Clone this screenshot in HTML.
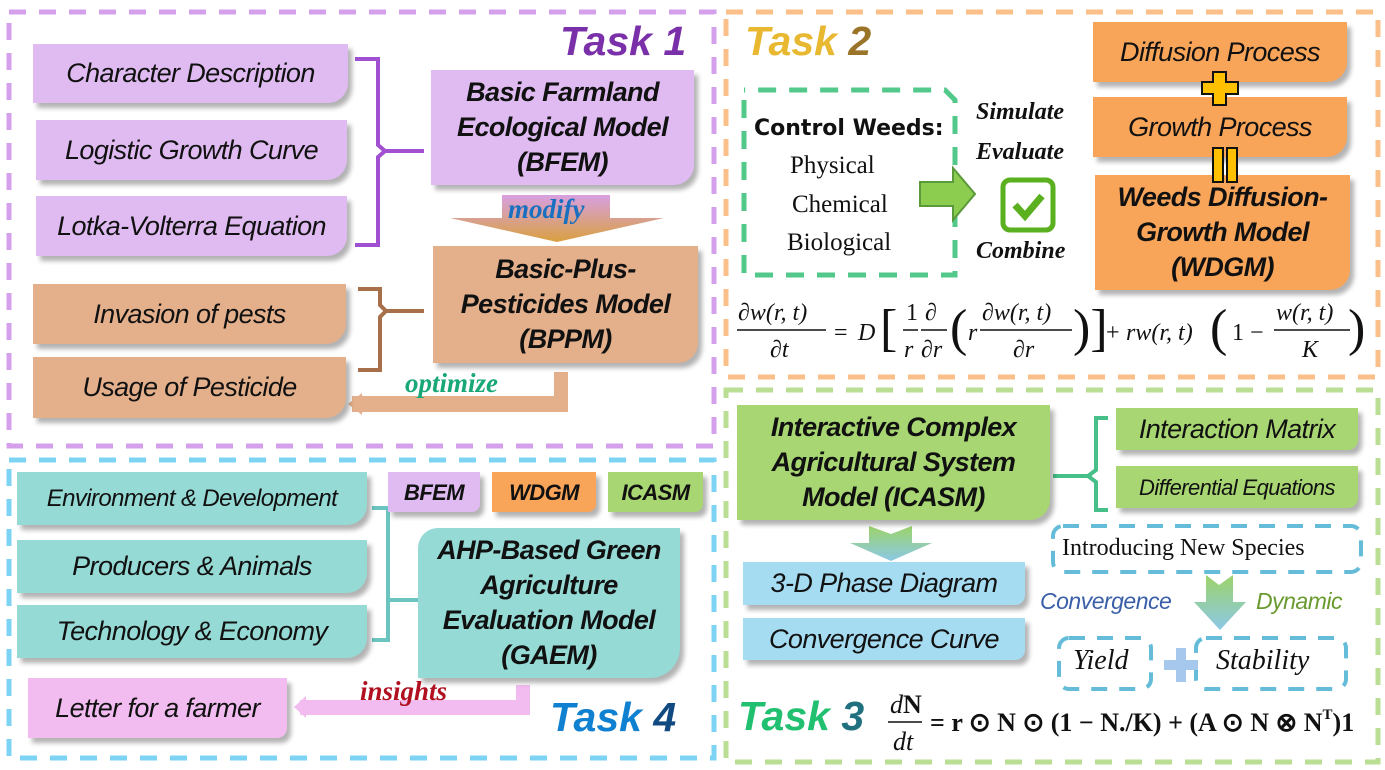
<!DOCTYPE html>
<html><head><meta charset="utf-8"><style>
body{margin:0;background:#fff;}
#c{position:relative;width:1385px;height:770px;overflow:hidden;background:#fff;font-family:"Liberation Sans",sans-serif;}
.b{position:absolute;display:flex;align-items:center;justify-content:center;text-align:center;font-style:italic;font-size:27px;color:#111;border-radius:0 0 20px 0;box-shadow:4px 5px 5px rgba(0,0,0,0.3);line-height:35px;white-space:nowrap;letter-spacing:-0.6px}
.m{font-weight:bold;}
.p{background:#dfbbf1}.br{background:#e4b08c}.o{background:#f8a55a}.g{background:#a8d672}.t{background:#96dad6}.bl{background:#a6dcf1}.pk{background:#f2bcf0}
.tx{position:absolute;white-space:nowrap}
svg{position:absolute;left:0;top:0}
</style></head><body><div id="c">
<svg width="1385" height="770">
<defs>
<linearGradient id="mg" x1="0" y1="0" x2="0" y2="1"><stop offset="0" stop-color="#d8a0e0"/><stop offset="1" stop-color="#d9a040"/></linearGradient>
<linearGradient id="ga" x1="0" y1="0" x2="0" y2="1"><stop offset="0" stop-color="#9cd36a"/><stop offset="1" stop-color="#8cc8e6"/></linearGradient>
</defs>
<rect x="9" y="12" width="705" height="434" fill="none" stroke="#d4a0ec" stroke-width="5" stroke-dasharray="17 13"/>
<rect x="726" y="12" width="652" height="365" fill="none" stroke="#fbc08a" stroke-width="5" stroke-dasharray="17 13"/>
<rect x="726" y="390" width="652" height="372" fill="none" stroke="#b9de94" stroke-width="5" stroke-dasharray="17 13"/>
<rect x="9" y="460" width="705" height="298" fill="none" stroke="#7dd3f3" stroke-width="5" stroke-dasharray="17 13"/>
<path d="M355 59 H378 V145 L385 151 L378 157 V245 H355 M383 151 H424" fill="none" stroke="#a050d0" stroke-width="4"/>
<path d="M358 289 H380 V305 L386 311 L380 317 V370 H358 M384 311 H424" fill="none" stroke="#a8704a" stroke-width="4"/>
<path d="M502 195 H610 V218 H664 L557 242 L450 218 H502Z" fill="url(#mg)"/>
<rect x="352" y="396" width="215" height="16" fill="#e4b08c"/>
<rect x="554" y="372" width="14" height="40" fill="#e4b08c"/>
<path d="M348 404 L362 393 V415Z" fill="#e4b08c"/>
<path d="M744 100 V275 H955 V100 L945 90 H744" fill="none" stroke="#52c88a" stroke-width="5" stroke-dasharray="18 13"/>
<path d="M920 182 H953 V168 L975 194 L953 220 V206 H920Z" fill="#8ccc4e" stroke="#5a9a3a" stroke-width="2"/>
<rect x="1003" y="180" width="50" height="50" rx="7" fill="#fff" stroke="#5ab01e" stroke-width="5"/>
<path d="M1015 205 L1025 216 L1042 196" fill="none" stroke="#5ab01e" stroke-width="7"/>
<path d="M1108 418 H1096 V470 L1088 476 L1096 482 V510 H1108 M1053 476 H1090" fill="none" stroke="#46c088" stroke-width="4"/>
<path d="M869 526 L891 534 L912 526 V543 H932 L891 561 L850 543 H869Z" fill="url(#ga)"/>
<rect x="1053" y="526" width="308" height="46" rx="10" fill="none" stroke="#64bcd8" stroke-width="4" stroke-dasharray="16 12"/>
<path d="M1206 575 L1219 585 L1233 575 V602 H1246 L1220 630 L1194 602 H1206Z" fill="url(#ga)"/>
<rect x="1059" y="638" width="92" height="51" rx="10" fill="none" stroke="#64bcd8" stroke-width="4" stroke-dasharray="16 12"/>
<rect x="1196" y="638" width="150" height="51" rx="10" fill="none" stroke="#64bcd8" stroke-width="4" stroke-dasharray="16 12"/>
<path d="M1176 648 H1186 V660 H1198 V670 H1186 V682 H1176 V670 H1164 V660 H1176Z" fill="#a6c8ec"/>
<path d="M372 508 H388 V640 H372 M388 600 H420" fill="none" stroke="#6cc4c0" stroke-width="4"/>
<rect x="300" y="700" width="230" height="15" fill="#f2bcf0"/>
<rect x="516" y="685" width="14" height="30" fill="#f2bcf0"/>
<path d="M294 707 L306 696 V718Z" fill="#f2bcf0"/>
<g font-family="Liberation Serif,serif" font-size="24" font-style="italic" fill="#111">
<text x="738" y="320">∂w(r, t)</text><line x1="737" y1="330" x2="826" y2="330" stroke="#111" stroke-width="1.5"/><text x="770" y="357">∂t</text>
<text x="834" y="340" font-style="normal">= </text><text x="858" y="340">D</text>
<text x="880" y="345" font-size="52" font-style="normal">[</text>
<text x="906" y="320" font-style="normal">1</text><line x1="903" y1="330" x2="918" y2="330" stroke="#111" stroke-width="1.5"/><text x="904" y="357">r</text>
<text x="925" y="320">∂</text><line x1="921" y1="330" x2="947" y2="330" stroke="#111" stroke-width="1.5"/><text x="921" y="357">∂r</text>
<text x="950" y="345" font-size="52" font-style="normal">(</text><text x="968" y="340">r</text>
<text x="982" y="320">∂w(r, t)</text><line x1="980" y1="330" x2="1072" y2="330" stroke="#111" stroke-width="1.5"/><text x="1013" y="357">∂r</text>
<text x="1073" y="345" font-size="52" font-style="normal">)]</text>
<text x="1106" y="340" font-style="normal">+</text><text x="1126" y="340">rw(r, t)</text>
<text x="1210" y="345" font-size="52" font-style="normal">(</text><text x="1232" y="340" font-style="normal">1 −</text>
<text x="1276" y="320">w(r, t)</text><line x1="1274" y1="330" x2="1350" y2="330" stroke="#111" stroke-width="1.5"/><text x="1302" y="357">K</text>
<text x="1348" y="345" font-size="52" font-style="normal">)</text>
</g>
<g font-family="Liberation Serif,serif" font-size="26" fill="#111">
<text x="890" y="713" font-style="italic">d<tspan font-weight="bold" font-style="normal">N</tspan></text>
<line x1="888" y1="722" x2="922" y2="722" stroke="#111" stroke-width="1.5"/>
<text x="893" y="750" font-style="italic">dt</text>
<text x="930" y="731" font-weight="bold">= r ⊙ N ⊙ (1 − N./K) + (A ⊙ N ⊗ N<tspan font-size="15" dy="-12">T</tspan><tspan dy="12">)1</tspan></text>
</g>
</svg>
<div class="tx" style="left:560px;top:18px;font:italic bold 41px 'Liberation Sans',sans-serif;color:#7a30a8">Task 1</div>
<div class="tx" style="left:745px;top:18px;font:italic bold 41px 'Liberation Sans',sans-serif;color:#e8b830">Task <span style="color:#9a7428">2</span></div>
<div class="tx" style="left:738px;top:693px;font:italic bold 41px 'Liberation Sans',sans-serif;color:#20c070">Task <span style="color:#207080">3</span></div>
<div class="tx" style="left:550px;top:694px;font:italic bold 41px 'Liberation Sans',sans-serif;color:#1080d0">Task <span style="color:#104a80">4</span></div>
<div class="b p" style="left:33px;top:44px;width:315px;height:59px">Character Description</div>
<div class="b p" style="left:36px;top:120px;width:311px;height:60px">Logistic Growth Curve</div>
<div class="b p" style="left:36px;top:196px;width:311px;height:60px">Lotka-Volterra Equation</div>
<div class="b p m" style="left:431px;top:70px;width:263px;height:115px">Basic Farmland<br>Ecological Model<br>(BFEM)</div>
<div class="tx" style="left:508px;top:194px;font:italic bold 27px 'Liberation Serif',serif;color:#1a70c0">modify</div>
<div class="b br m" style="left:433px;top:246px;width:265px;height:117px">Basic-Plus-<br>Pesticides Model<br>(BPPM)</div>
<div class="b br" style="left:33px;top:284px;width:313px;height:60px">Invasion of pests</div>
<div class="b br" style="left:33px;top:357px;width:313px;height:61px">Usage of Pesticide</div>
<div class="tx" style="left:405px;top:368px;font:italic bold 27px 'Liberation Serif',serif;color:#18a878">optimize</div>
<div class="b o" style="left:1093px;top:22px;width:254px;height:60px">Diffusion Process</div>
<div class="b o" style="left:1093px;top:97px;width:254px;height:60px">Growth Process</div>
<div class="b o m" style="left:1095px;top:175px;width:255px;height:115px">Weeds Diffusion-<br>Growth Model<br>(WDGM)</div>
<svg width="1385" height="770" style="pointer-events:none">
<path d="M1213 72 H1226 V82 H1238 V94 H1226 V105 H1213 V94 H1202 V82 H1213Z" fill="#ffc000" stroke="#111" stroke-width="2"/>
<rect x="1213" y="148" width="10" height="34" fill="#ffc000" stroke="#111" stroke-width="2"/>
<rect x="1227" y="148" width="10" height="34" fill="#ffc000" stroke="#111" stroke-width="2"/>
</svg>
<div class="tx" style="left:754px;top:116px;font:bold 22px 'DejaVu Sans',sans-serif;color:#111">Control Weeds:</div>
<div class="tx" style="left:790px;top:152px;font:25px 'Liberation Serif',serif;color:#111">Physical</div>
<div class="tx" style="left:792px;top:191px;font:25px 'Liberation Serif',serif;color:#111">Chemical</div>
<div class="tx" style="left:787px;top:229px;font:25px 'Liberation Serif',serif;color:#111">Biological</div>
<div class="tx" style="left:976px;top:99px;font:italic bold 24px 'Liberation Serif',serif;color:#111">Simulate</div>
<div class="tx" style="left:976px;top:139px;font:italic bold 24px 'Liberation Serif',serif;color:#111">Evaluate</div>
<div class="tx" style="left:976px;top:238px;font:italic bold 24px 'Liberation Serif',serif;color:#111">Combine</div>
<div class="b g m" style="left:737px;top:405px;width:313px;height:115px">Interactive Complex<br>Agricultural System<br>Model (ICASM)</div>
<div class="b g" style="left:1116px;top:408px;width:242px;height:42px;border-radius:0 0 10px 0">Interaction Matrix</div>
<div class="b g" style="left:1116px;top:466px;width:242px;height:42px;border-radius:0 0 10px 0;font-size:22px">Differential Equations</div>
<div class="b bl" style="left:743px;top:562px;width:282px;height:43px;border-radius:0 0 10px 0">3-D Phase Diagram</div>
<div class="b bl" style="left:743px;top:618px;width:282px;height:42px;border-radius:0 0 10px 0">Convergence Curve</div>
<div class="tx" style="left:1062px;top:535px;font:24px 'Liberation Serif',serif;color:#111">Introducing New Species</div>
<div class="tx" style="left:1040px;top:588px;font:italic 23px 'Liberation Sans',sans-serif;color:#3a5ea8;letter-spacing:-0.5px">Convergence</div>
<div class="tx" style="left:1256px;top:588px;font:italic 23px 'Liberation Sans',sans-serif;color:#6a9a30;letter-spacing:-0.5px">Dynamic</div>
<div class="tx" style="left:1073px;top:645px;font:italic 28px 'Liberation Serif',serif;color:#111">Yield</div>
<div class="tx" style="left:1216px;top:645px;font:italic 28px 'Liberation Serif',serif;color:#111">Stability</div>
<div class="b t" style="left:17px;top:472px;width:350px;height:53px;font-size:24px">Environment &amp; Development</div>
<div class="b t" style="left:17px;top:540px;width:350px;height:53px">Producers &amp; Animals</div>
<div class="b t" style="left:17px;top:605px;width:350px;height:53px">Technology &amp; Economy</div>
<div class="b p m" style="left:388px;top:472px;width:92px;height:40px;font-size:22px;border-radius:0 0 8px 0">BFEM</div>
<div class="b o m" style="left:492px;top:472px;width:104px;height:40px;font-size:22px;border-radius:0 0 8px 0">WDGM</div>
<div class="b g m" style="left:608px;top:472px;width:95px;height:40px;font-size:22px;border-radius:0 0 8px 0">ICASM</div>
<div class="b t m" style="left:418px;top:528px;width:262px;height:150px;border-radius:20px 0 30px 0">AHP-Based Green<br>Agriculture<br>Evaluation Model<br>(GAEM)</div>
<div class="b pk" style="left:28px;top:678px;width:259px;height:60px;border-radius:0 0 10px 0">Letter for a farmer</div>
<div class="tx" style="left:360px;top:676px;font:italic bold 27px 'Liberation Serif',serif;color:#b01020">insights</div>
</div></body></html>
